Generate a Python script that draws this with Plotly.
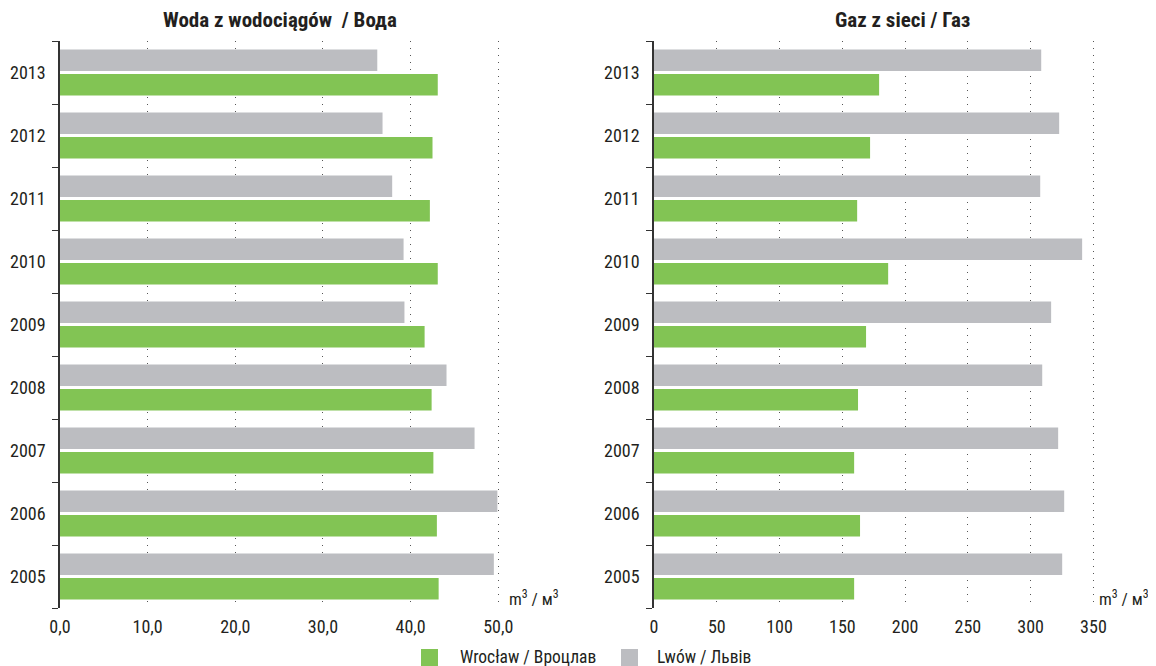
import plotly.graph_objects as go

years = ["2005", "2006", "2007", "2008", "2009", "2010", "2011", "2012", "2013"]
water_wroclaw = [43.2, 43.0, 42.6, 42.4, 41.6, 43.1, 42.2, 42.5, 43.1]
water_lwow = [49.5, 49.9, 47.3, 44.1, 39.3, 39.2, 37.9, 36.8, 36.2]
gas_wroclaw = [159.4, 164.1, 159.4, 162.5, 168.9, 186.5, 161.8, 172.1, 179.3]
gas_lwow = [325.1, 326.7, 321.9, 309.2, 316.3, 341.0, 307.6, 322.7, 308.4]

water_ticks = [0, 10, 20, 30, 40, 50]
water_ticktext = ["0,0", "10,0", "20,0", "30,0", "40,0", "50,0"]
gas_ticks = [0, 50, 100, 150, 200, 250, 300, 350]

name_wroclaw = "Wrocław / Вроцлав"
name_lwow = "Lwów / Львів"
title_water = "Woda z wodociągów  / Вода"
title_gas = "Gaz z sieci / Газ"
unit = "m<sup>3</sup> / м<sup>3</sup>"

GREEN = "#82c454"
GRAY = "#bcbdc1"
TXT = "#231f20"
FONT = "Roboto Condensed, Liberation Sans Narrow, Arial Narrow, sans-serif"

fig = go.Figure()
fig.add_trace(go.Bar(y=years, x=water_wroclaw, orientation="h", name=name_wroclaw,
                     marker=dict(color=GREEN, line=dict(width=0)), xaxis="x", yaxis="y"))
fig.add_trace(go.Bar(y=years, x=water_lwow, orientation="h", name=name_lwow,
                     marker=dict(color=GRAY, line=dict(width=0)), xaxis="x", yaxis="y"))
fig.add_trace(go.Bar(y=years, x=gas_wroclaw, orientation="h", name=name_wroclaw,
                     marker=dict(color=GREEN, line=dict(width=0)), xaxis="x2", yaxis="y2"))
fig.add_trace(go.Bar(y=years, x=gas_lwow, orientation="h", name=name_lwow,
                     marker=dict(color=GRAY, line=dict(width=0)), xaxis="x2", yaxis="y2"))

# page has an 8px body margin, so the figure is made 8px smaller
O = 8
W, H = 1156 - O, 666 - O
L, R, T, B = 60 - O, 50, 41 - O, 58
pw = W - L - R
ph = H - T - B
d1 = [0, 447 / pw]
d2 = [(654 - O - L) / pw, 1]


def px(x):
    return (x - O - L) / pw


def py(y):
    return (H - B - (y - O)) / ph


grid = dict(showgrid=True, gridcolor="#555555", griddash="1px,6px", gridwidth=1,
            zeroline=False, showline=False, ticks="", automargin=False,
            ticklabelstandoff=6,
            tickfont=dict(size=18, color=TXT, family=FONT))
yax = dict(type="category", categoryorder="array", categoryarray=years,
           showline=True, linecolor="#333333", linewidth=1.5, ticks="outside",
           ticklen=6, tickcolor="#333333", tickson="boundaries", showgrid=False,
           automargin=False, ticklabelstandoff=9,
           tickfont=dict(size=18, color=TXT, family=FONT))

shapes = []
annotations = [
    dict(text="<b>" + title_water + "</b>", xref="paper", yref="paper",
         x=px(280), y=py(20), xanchor="center", yanchor="middle",
         showarrow=False, font=dict(size=21, family=FONT, color=TXT)),
    dict(text="<b>" + title_gas + "</b>", xref="paper", yref="paper",
         x=px(902), y=py(20), xanchor="center", yanchor="middle",
         showarrow=False, font=dict(size=21, family=FONT, color=TXT)),
    dict(text=unit, xref="paper", yref="paper", x=px(507), y=py(611), xanchor="left",
         yanchor="bottom", showarrow=False,
         font=dict(size=17, family=FONT, color=TXT)),
    dict(text=unit, xref="paper", yref="paper", x=px(1097), y=py(611), xanchor="left",
         yanchor="bottom", showarrow=False,
         font=dict(size=17, family=FONT, color=TXT)),
]
# legend drawn as decoration (squares + labels)
for sx, color, label, tx in [(421, GREEN, name_wroclaw, 458), (621, GRAY, name_lwow, 655)]:
    shapes.append(dict(type="rect", xref="paper", yref="paper",
                       x0=px(sx), x1=px(sx + 17), y0=py(666), y1=py(649),
                       fillcolor=color, line=dict(width=0)))
    annotations.append(dict(text=label, xref="paper", yref="paper", x=px(tx), y=py(657),
                            xanchor="left", yanchor="middle", showarrow=False,
                            font=dict(size=17.5, family=FONT, color=TXT)))

fig.update_layout(
    width=W, height=H,
    margin=dict(l=L, r=R, t=T, b=B, autoexpand=False),
    paper_bgcolor="white", plot_bgcolor="white",
    barmode="group", bargap=0.222, bargroupgap=0.12,
    font=dict(family=FONT, color=TXT),
    xaxis=dict(domain=d1, range=[0, 51], tickvals=water_ticks, ticktext=water_ticktext,
               anchor="y", **grid),
    yaxis=dict(domain=[0, 1], anchor="x", **yax),
    xaxis2=dict(domain=d2, range=[0, 360], tickvals=gas_ticks, anchor="y2", **grid),
    yaxis2=dict(domain=[0, 1], anchor="x2", **yax),
    showlegend=False,
    shapes=shapes,
    annotations=annotations,
)

fig.write_html("out.html")
